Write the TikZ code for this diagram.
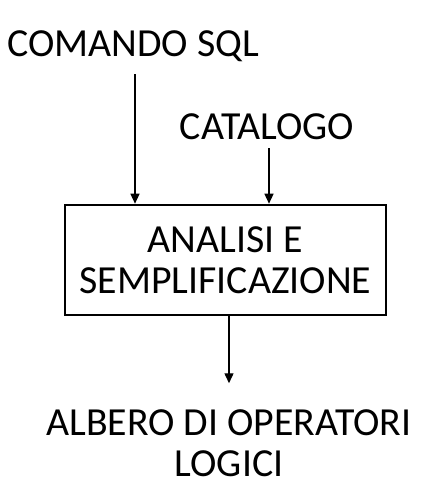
\documentclass[tikz,border=0pt]{standalone}
\usepackage{fontspec}
\setmainfont{Carlito}
\usetikzlibrary{arrows.meta}

\tikzset{
  label text/.style={font=\fontsize{39.8}{41}\selectfont, inner sep=0pt, align=center},
  step box/.style={draw, line width=2.6pt, minimum width=321pt, minimum height=110pt, label text},
  flow arrow/.style={line width=1.4pt, -{Triangle[width=9pt,length=10pt]}}
}

\begin{document}
\begin{tikzpicture}[x=1pt,y=1pt,yscale=-1,xscale=1]
      \useasboundingbox (0,0) rectangle (421,483);

      % Text Node
      \node [label text, anchor=base] (comando) at (133,56) {COMANDO SQL};
      % Text Node
      \node [label text, anchor=base] (catalogo) at (267,139) {CATALOGO};
      % Rect
      \node [step box] (analisi) at (225.5,260) {ANALISI E\\SEMPLIFICAZIONE};
      % Text Node
      \node [label text] (albero) at (229,443) {ALBERO DI OPERATORI\\LOGICI};

      %Straight Lines
      \draw [flow arrow, shorten <=13pt] ([xshift=2pt]comando.south) -- ([xshift=2pt]comando.south |- analisi.north);
      \draw [flow arrow, shorten <=9pt] ([xshift=2pt]catalogo.south) -- ([xshift=2pt]catalogo.south |- analisi.north);
      \draw [flow arrow, shorten >=26pt] (albero.north |- analisi.south) -- (albero.north);
\end{tikzpicture}
\end{document}
